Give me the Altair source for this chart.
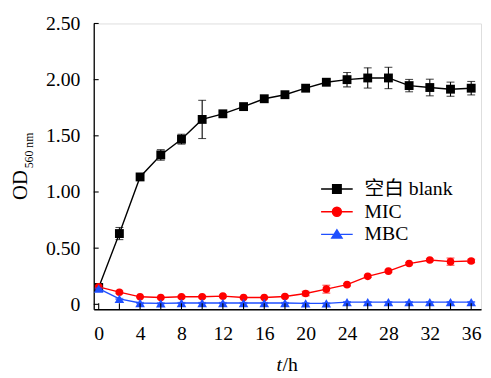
import altair as alt
import pandas as pd

# ---- data ----
hours = [0, 2, 4, 6, 8, 10, 12, 14, 16, 18, 20, 22, 24, 26, 28, 30, 32, 34, 36]
series_names = ["空白 blank", "MIC", "MBC"]

blank = [0.150, 0.630, 1.134, 1.330, 1.470, 1.646, 1.696, 1.760, 1.830, 1.866,
         1.924, 1.977, 2.000, 2.015, 2.015, 1.947, 1.930, 1.915, 1.924]
blank_err = [0.010, 0.054, 0.010, 0.047, 0.044, 0.170, 0.020, 0.020, 0.010, 0.010,
             0.010, 0.020, 0.064, 0.090, 0.095, 0.055, 0.074, 0.063, 0.060]

mic = [0.155, 0.108, 0.067, 0.061, 0.067, 0.067, 0.073, 0.061, 0.061, 0.070,
       0.096, 0.135, 0.175, 0.249, 0.295, 0.363, 0.395, 0.380, 0.386]
mic_err = [0.010, 0.010, 0.005, 0.005, 0.010, 0.010, 0.010, 0.005, 0.005, 0.010,
           0.020, 0.035, 0.010, 0.010, 0.010, 0.010, 0.010, 0.032, 0.015]

mbc = [0.140, 0.048, 0.012, 0.009, 0.012, 0.012, 0.012, 0.012, 0.012, 0.012,
       0.009, 0.009, 0.020, 0.020, 0.020, 0.020, 0.020, 0.020, 0.020]
mbc_err = [0.005] * 19

x_label_values = [0, 4, 8, 12, 16, 20, 24, 28, 32, 36]
x_tick_values = [0, 2, 4, 6, 8, 10, 12, 14, 16, 18, 20, 22, 24, 26, 28, 30, 32, 34, 36]
y_tick_values = [0, 0.5, 1.0, 1.5, 2.0, 2.5]

colors = ["#000000", "#ff0000", "#1f4fff"]
shapes = ["square", "circle", "triangle-up"]
sizes = [81, 60, 95]
legend_paths = [
    "M-1.31,0H1.31M-0.35,-0.35H0.35V0.35H-0.35Z",
    "M-1.31,0H1.31M-0.37,0A0.37,0.37,0,1,0,0.37,0A0.37,0.37,0,1,0,-0.37,0Z",
    "M-1.31,0H1.31M0,-0.38L0.42,0.3L-0.42,0.3Z",
]

# ---- tables ----
rows = []
for name, vals, errs in [(series_names[0], blank, blank_err),
                         (series_names[1], mic, mic_err),
                         (series_names[2], mbc, mbc_err)]:
    for t, v, e in zip(hours, vals, errs):
        rows.append({"series": name, "t": t, "v": v, "lo": v - e, "hi": v + e})
df = pd.DataFrame(rows)

FONT = "Liberation Serif, Noto Sans CJK SC"
XDOM = [-0.48, 36.95]
YDOM = [-0.044, 2.5]

xaxis = alt.Axis(values=x_label_values, title=None, ticks=False, tickSize=0,
                 labelPadding=15, grid=False, domainColor="black", domainWidth=1.3,
                 labelFont=FONT, labelFontSize=20, labelColor="black", labelFlush=False)
yaxis = alt.Axis(values=y_tick_values, title=None, ticks=False, tickSize=0,
                 labelPadding=14, grid=False, domainColor="black", domainWidth=1.3,
                 labelFont=FONT, labelFontSize=20, labelColor="black",
                 labelExpr="datum.value == 0 ? '0' : format(datum.value, '.2f')")


def X(field="t"):
    return alt.X(f"{field}:Q", scale=alt.Scale(domain=XDOM, nice=False, zero=False), axis=xaxis)


def Y(field="v"):
    return alt.Y(f"{field}:Q", scale=alt.Scale(domain=YDOM, nice=False, zero=False), axis=yaxis)


layers = []
for name, col, shp, sz in zip(series_names, colors, shapes, sizes):
    base = alt.Chart(df).transform_filter(alt.datum.series == name)
    layers.append(base.mark_line(color=col, strokeWidth=1.4).encode(x=X(), y=Y()))
    layers.append(base.mark_rule(color=col, strokeWidth=1.1).encode(
        x=X(), y=Y("lo"), y2=alt.Y2("hi:Q")))
    layers.append(base.mark_tick(color=col, orient="horizontal", size=8, thickness=1.1).encode(
        x=X(), y=Y("lo")))
    layers.append(base.mark_tick(color=col, orient="horizontal", size=8, thickness=1.1).encode(
        x=X(), y=Y("hi")))
    layers.append(base.mark_point(filled=True, shape=shp, size=sz, color=col, opacity=1).encode(
        x=X(), y=Y()))

# inward ticks
xt = alt.Chart(pd.DataFrame({"t": x_tick_values})).mark_rule(color="black", strokeWidth=1.1).encode(
    x=X(), y=alt.value(290), y2=alt.value(284))
yt = alt.Chart(pd.DataFrame({"v": y_tick_values})).mark_rule(color="black", strokeWidth=1.1).encode(
    y=Y(), x=alt.value(0), x2=alt.value(5))
layers += [xt, yt]

# legend
leg = alt.Legend(orient="none", legendX=233.75, legendY=155, title=None,
                 symbolSize=600, symbolStrokeWidth=1.5, labelFont=FONT, labelFontSize=20,
                 labelColor="black", labelOffset=15, rowPadding=0, padding=0,
                 labelLimit=300, symbolOpacity=1)
legdf = pd.DataFrame({"series": series_names})
legend_layer = alt.Chart(legdf).transform_filter("false").mark_point(opacity=1).encode(
    shape=alt.Shape("series:N", scale=alt.Scale(domain=series_names, range=legend_paths), legend=leg),
    fill=alt.Fill("series:N", scale=alt.Scale(domain=series_names, range=colors), legend=leg),
    stroke=alt.Stroke("series:N", scale=alt.Scale(domain=series_names, range=colors), legend=leg),
)
layers.append(legend_layer)

# titles
one = pd.DataFrame({"a": [0]})
layers.append(alt.Chart(one).mark_text(font=FONT, fontSize=21, angle=270, align="left",
                                       baseline="middle", color="black").encode(
    x=alt.value(-74), y=alt.value(179), text=alt.value("OD")))
layers.append(alt.Chart(one).mark_text(font=FONT, fontSize=12, angle=270, align="left",
                                       baseline="middle", color="black").encode(
    x=alt.value(-66), y=alt.value(147), text=alt.value("560 nm")))
layers.append(alt.Chart(one).mark_text(font=FONT, fontSize=20, fontStyle="italic", align="left",
                                       baseline="alphabetic", color="black").encode(
    x=alt.value(185.5), y=alt.value(353), text=alt.value("t")))
layers.append(alt.Chart(one).mark_text(font=FONT, fontSize=20, align="left",
                                       baseline="alphabetic", color="black").encode(
    x=alt.value(191.5), y=alt.value(353), text=alt.value("/h")))

chart = alt.layer(*layers).properties(
    width=393, height=290,
    autosize=alt.AutoSizeParams(type="none"),
    padding={"left": 87, "top": 13, "right": 2, "bottom": 65},
).configure_view(stroke=None).configure(font=FONT, background="white")

chart.save("out.html", embed_options={"renderer": "svg", "actions": False})
